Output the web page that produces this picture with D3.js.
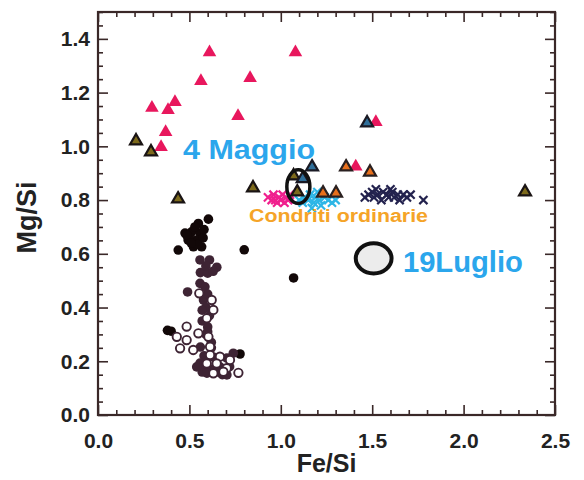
<!DOCTYPE html>
<html>
<head>
<meta charset="utf-8">
<script src="https://d3js.org/d3.v7.min.js"></script>
<style>
  body { margin: 0; background: #fff; }
  text { font-family: "Liberation Sans", Arial, Helvetica, sans-serif; }
</style>
</head>
<body>
<div id="chart"></div>
<script>
// each point is [Fe/Si, Mg/Si]
const redTriangles = [
  [0.295, 1.143], [0.383, 1.135], [0.421, 1.165], [0.563, 1.243], [0.61, 1.35],
  [0.832, 1.254], [0.766, 1.113], [1.08, 1.35], [0.37, 1.053], [0.345, 0.997],
  [1.52, 1.09], [1.41, 0.925]
];
const oliveTriangles = [
  [0.208, 1.02], [0.29, 0.979], [0.438, 0.804], [0.848, 0.845], [2.336, 0.83],
  [1.07, 0.89], [1.09, 0.83]
];
const orangeTriangles = [
  [1.231, 0.826], [1.302, 0.826], [1.357, 0.923], [1.488, 0.904]
];
const blueTriangles = [
  [1.472, 1.087], [1.171, 0.923], [1.12, 0.88]
];
const blackDots = [
  [0.604, 0.729], [0.549, 0.713], [0.439, 0.614], [0.476, 0.677], [0.512, 0.682],
  [0.558, 0.677], [0.493, 0.651], [0.54, 0.651], [0.575, 0.659], [0.522, 0.626],
  [0.567, 0.626], [0.50, 0.66], [0.53, 0.70], [0.485, 0.67], [0.545, 0.635],
  [0.58, 0.69], [0.51, 0.64], [0.80, 0.615], [1.07, 0.51],
  [0.777, 0.227], [0.38, 0.315], [0.40, 0.312]
];
const purpleDots = [
  [0.558, 0.577], [0.61, 0.577], [0.65, 0.55], [0.56, 0.53], [0.60, 0.528],
  [0.63, 0.535], [0.59, 0.555], [0.49, 0.458], [0.558, 0.49], [0.585, 0.477],
  [0.577, 0.428], [0.58, 0.44], [0.59, 0.40], [0.57, 0.39], [0.61, 0.37],
  [0.57, 0.35], [0.60, 0.328], [0.59, 0.30], [0.60, 0.31], [0.56, 0.253],
  [0.62, 0.25], [0.58, 0.22], [0.558, 0.193], [0.585, 0.175], [0.57, 0.16],
  [0.62, 0.17], [0.65, 0.16], [0.68, 0.15], [0.72, 0.18], [0.74, 0.23],
  [0.705, 0.149], [0.596, 0.156], [0.667, 0.179], [0.54, 0.179], [0.63, 0.216],
  [0.705, 0.212], [0.60, 0.45], [0.62, 0.27]
];
const openDots = [
  [0.554, 0.453], [0.622, 0.428], [0.631, 0.391], [0.595, 0.36], [0.485, 0.329],
  [0.431, 0.291], [0.485, 0.279], [0.549, 0.304], [0.449, 0.248], [0.521, 0.242],
  [0.604, 0.291], [0.613, 0.254], [0.613, 0.223], [0.667, 0.217], [0.722, 0.205],
  [0.595, 0.192], [0.649, 0.192], [0.704, 0.174], [0.686, 0.161], [0.768, 0.157],
  [0.631, 0.155]
];
const pinkCrosses = [
  [0.93, 0.81], [0.95, 0.80], [0.96, 0.82], [0.98, 0.79], [0.99, 0.81], [1.00, 0.80],
  [1.01, 0.82], [1.02, 0.79], [1.03, 0.81], [1.04, 0.80], [0.97, 0.80], [1.05, 0.82]
];
const cyanCrosses = [
  [1.10, 0.80], [1.12, 0.79], [1.13, 0.81], [1.15, 0.80], [1.16, 0.82], [1.18, 0.79],
  [1.19, 0.81], [1.21, 0.80], [1.22, 0.78], [1.24, 0.81], [1.26, 0.80], [1.28, 0.79],
  [1.30, 0.80], [1.17, 0.77], [1.20, 0.83]
];
const navyCrosses = [
  [1.46, 0.81], [1.48, 0.82], [1.50, 0.83], [1.51, 0.81], [1.53, 0.82], [1.55, 0.80],
  [1.56, 0.83], [1.58, 0.82], [1.59, 0.81], [1.61, 0.83], [1.62, 0.81], [1.64, 0.82],
  [1.65, 0.80], [1.67, 0.82], [1.69, 0.81], [1.71, 0.82], [1.78, 0.80], [1.52, 0.84],
  [1.60, 0.84]
];
// ellipses: [cx, cy, rx, ry] in data units
const ellipses = [
  [1.096, 0.85, 0.063, 0.063],
  [1.508, 0.583, 0.098, 0.056]
];
const xTicks = [0, 0.5, 1.0, 1.5, 2.0, 2.5];
const yTicks = [0, 0.2, 0.4, 0.6, 0.8, 1.0, 1.2, 1.4];
const labels = ["4 Maggio", "Condriti ordinarie", "19Luglio"];

const width = 584, height = 480;
const margin = {top: 12, right: 29, bottom: 65, left: 98};
const frame = "#3a2828";

const svg = d3.create("svg")
  .attr("width", width)
  .attr("height", height);

const x = d3.scaleLinear().domain([0, 2.5]).range([margin.left, width - margin.right]);
const y = d3.scaleLinear().domain([0, 1.5]).range([height - margin.bottom, margin.top]);

const xMinor = d3.range(0, 2.5001, 0.1).filter(v => Math.abs(v * 2 - Math.round(v * 2)) > 1e-6);
const yMinor = d3.range(0, 1.5001, 0.05).filter(v => Math.abs(v * 5 - Math.round(v * 5)) > 1e-6);

function styleAxis(g) {
  g.select(".domain").remove();
  g.selectAll(".tick line").attr("stroke", frame).attr("stroke-width", 1.6);
  g.selectAll(".tick text")
    .attr("fill", "#222")
    .attr("font-size", 21)
    .attr("font-weight", "bold");
}

// bottom
svg.append("g").attr("transform", `translate(0,${y(0)})`)
  .call(d3.axisBottom(x).tickValues(xTicks).tickFormat(d3.format(".1f")).tickSize(-10).tickPadding(18))
  .call(styleAxis);
svg.append("g").attr("transform", `translate(0,${y(0)})`)
  .call(d3.axisBottom(x).tickValues(xMinor).tickFormat("").tickSize(-5))
  .call(styleAxis);
// top
svg.append("g").attr("transform", `translate(0,${y(1.5)})`)
  .call(d3.axisTop(x).tickValues(xTicks).tickFormat("").tickSize(-10))
  .call(styleAxis);
svg.append("g").attr("transform", `translate(0,${y(1.5)})`)
  .call(d3.axisTop(x).tickValues(xMinor).tickFormat("").tickSize(-5))
  .call(styleAxis);
// left
svg.append("g").attr("transform", `translate(${x(0)},0)`)
  .call(d3.axisLeft(y).tickValues(yTicks).tickFormat(d3.format(".1f")).tickSize(-10).tickPadding(8))
  .call(styleAxis);
svg.append("g").attr("transform", `translate(${x(0)},0)`)
  .call(d3.axisLeft(y).tickValues(yMinor).tickFormat("").tickSize(-5))
  .call(styleAxis);
// right
svg.append("g").attr("transform", `translate(${x(2.5)},0)`)
  .call(d3.axisRight(y).tickValues(yTicks).tickFormat("").tickSize(-10))
  .call(styleAxis);
svg.append("g").attr("transform", `translate(${x(2.5)},0)`)
  .call(d3.axisRight(y).tickValues(yMinor).tickFormat("").tickSize(-5))
  .call(styleAxis);

svg.append("rect")
  .attr("x", x(0)).attr("y", y(1.5))
  .attr("width", x(2.5) - x(0)).attr("height", y(0) - y(1.5))
  .attr("fill", "none").attr("stroke", frame).attr("stroke-width", 2.2);

// axis titles
svg.append("text")
  .attr("x", (x(0) + x(2.5)) / 2).attr("y", 472)
  .attr("text-anchor", "middle")
  .attr("font-size", 25).attr("font-weight", "bold").attr("fill", "#222")
  .text("Fe/Si");
svg.append("text")
  .attr("transform", `translate(36,${(y(0) + y(1.5)) / 2 + 4}) rotate(-90)`)
  .attr("text-anchor", "middle")
  .attr("font-size", 27).attr("font-weight", "bold").attr("fill", "#222")
  .text("Mg/Si");

const plot = svg.append("g");

function dots(data, r, fill, stroke, sw) {
  plot.append("g").selectAll("circle").data(data).join("circle")
    .attr("cx", d => x(d[0])).attr("cy", d => y(d[1]))
    .attr("r", r).attr("fill", fill)
    .attr("stroke", stroke).attr("stroke-width", sw);
}
function marks(data, type, size, fill, stroke, sw) {
  plot.append("g").selectAll("path").data(data).join("path")
    .attr("transform", d => `translate(${x(d[0])},${y(d[1])})`)
    .attr("d", d3.symbol(type, size))
    .attr("fill", fill).attr("stroke", stroke).attr("stroke-width", sw);
}

dots(blackDots, 4.8, "#120808", "none", 0);
dots(purpleDots, 4.8, "#3e2434", "none", 0);
dots(openDots, 4.2, "#fff", "#3e2434", 1.9);

marks(pinkCrosses, d3.symbolTimes, 45, "none", "#f0208e", 2.2);
marks(cyanCrosses, d3.symbolTimes, 45, "none", "#2eb6e6", 2.2);
marks(navyCrosses, d3.symbolTimes, 45, "none", "#23224e", 2.2);

marks(redTriangles, d3.symbolTriangle, 80, "#e8175d", "none", 0);
marks(oliveTriangles, d3.symbolTriangle, 62, "#7d6a1c", "#1a1414", 2.2);
marks(orangeTriangles, d3.symbolTriangle, 62, "#e8701c", "#2a2020", 2.2);
marks(blueTriangles, d3.symbolTriangle, 62, "#2f6f9a", "#1a1a24", 2.2);

plot.append("g").selectAll("ellipse").data(ellipses).join("ellipse")
  .attr("cx", d => x(d[0])).attr("cy", d => y(d[1]))
  .attr("rx", d => x(d[2]) - x(0)).attr("ry", d => y(0) - y(d[3]))
  .attr("fill", (d, i) => i === 1 ? "#ececec" : "none")
  .attr("stroke", "#111").attr("stroke-width", (d, i) => i === 1 ? 4 : 3.5);

// annotations
svg.append("text")
  .attr("x", x(0.465)).attr("y", y(0.953))
  .attr("font-size", 27).attr("font-weight", "bold").attr("fill", "#2ba6ec")
  .attr("textLength", 132).attr("lengthAdjust", "spacingAndGlyphs")
  .text(labels[0]);
svg.append("text")
  .attr("x", x(0.826)).attr("y", y(0.718))
  .attr("font-size", 18).attr("font-weight", "bold").attr("fill", "#f5a428")
  .attr("textLength", 179).attr("lengthAdjust", "spacingAndGlyphs")
  .text(labels[1]);
svg.append("text")
  .attr("x", x(1.668)).attr("y", y(0.532))
  .attr("font-size", 29).attr("font-weight", "bold").attr("fill", "#2ba6ec")
  .attr("textLength", 120).attr("lengthAdjust", "spacingAndGlyphs")
  .text(labels[2]);

document.getElementById("chart").appendChild(svg.node());
</script>
</body>
</html>
